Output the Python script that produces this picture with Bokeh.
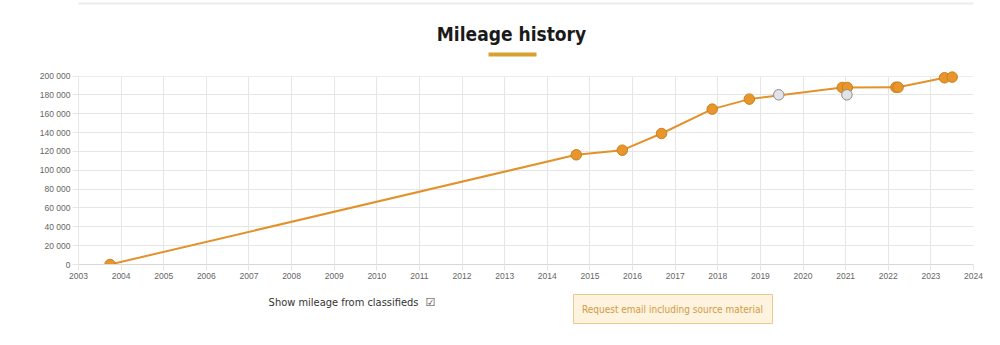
from bokeh.plotting import figure
from bokeh.layouts import column
from bokeh.models import Range1d, FixedTicker, BoxAnnotation, ColumnDataSource
from bokeh.core.properties import value
from bokeh.embed import file_html
from bokeh.resources import INLINE

# ---- data (decimal years, km) ----
dealer_years = [2003.74, 2014.68, 2015.76, 2016.68, 2017.87, 2018.74,
                2020.92, 2021.04, 2022.18, 2022.23, 2023.32, 2023.50]
dealer_km = [0, 116500, 121400, 139100, 165000, 175600,
             188000, 188000, 188200, 188200, 198300, 199000]
classified_years = [2019.43, 2021.03]
classified_km = [180200, 180200]

year_ticks = list(range(2003, 2025))
km_ticks = list(range(0, 200001, 20000))
km_labels = ["0", "20 000", "40 000", "60 000", "80 000", "100 000",
             "120 000", "140 000", "160 000", "180 000", "200 000"]

title_text = "Mileage history"
toggle_text = "Show mileage from classifieds"
button_text = "Request email including source material"

ORANGE = "#e3922b"
GRID = "#e6e6e6"
TICKC = "#666666"
W = 1000
LEFT, RIGHT = 78, 27
NARROW = value("DejaVu Sans Condensed, Roboto")


def deco_fig(h, y_top):
    # frame is aligned with the chart frame: map canvas pixels 1:1
    f = figure(width=W, height=h, output_backend="svg", toolbar_location=None,
               x_range=Range1d(LEFT, W - RIGHT), y_range=Range1d(y_top + h, y_top),
               x_axis_location=None, y_axis_location=None,
               min_border_left=LEFT, min_border_right=RIGHT,
               min_border_top=0, min_border_bottom=0)
    f.outline_line_color = None
    f.xgrid.visible = False
    f.ygrid.visible = False
    return f


# ---- top: page line, title, underline ----
top = deco_fig(66, 0)
top.quad(left=[40], right=[1000], top=[2], bottom=[4], fill_color="#ececec",
         line_color=None)
top.text(x=[511], y=[33], text=[title_text], text_align="center",
         text_baseline="middle", text_font=NARROW, text_font_style="bold",
         text_font_size="19px", text_color="#1a1a1a")
top.quad(left=[488], right=[536], top=[52], bottom=[56], fill_color="#d9a032",
         line_color=None)

# ---- main chart ----
Y_END = 206000
p = figure(width=W, height=224, output_backend="svg", toolbar_location=None,
           x_range=Range1d(2003, 2024), y_range=Range1d(0, Y_END),
           min_border_left=LEFT, min_border_right=RIGHT, min_border_top=4,
           min_border_bottom=26)
p.outline_line_color = None

p.xaxis.ticker = FixedTicker(ticks=year_ticks)
p.yaxis.ticker = FixedTicker(ticks=km_ticks)
p.yaxis.major_label_overrides = {t: l for t, l in zip(km_ticks, km_labels)}
p.xaxis.major_label_overrides = {t: str(t) for t in year_ticks}
for ax in (p.xaxis, p.yaxis):
    ax.axis_line_color = "#d8d8d8"
    ax.major_tick_line_color = GRID
    ax.major_tick_in = 0
    ax.major_tick_out = 6
    ax.minor_tick_line_color = None
    ax.major_label_text_font = "Liberation Sans"
    ax.major_label_text_font_size = "8.5px"
    ax.major_label_text_color = TICKC
    ax.major_label_standoff = 2
p.yaxis.axis_line_color = GRID
p.yaxis.bounds = (0, 200000)
p.xgrid.grid_line_color = GRID
p.ygrid.grid_line_color = GRID

# hide grid above the top tick (space kept so markers are not clipped)
p.add_layout(BoxAnnotation(bottom=200000, fill_color="white", fill_alpha=1,
                           line_color=None, level="underlay"))

src = ColumnDataSource(dict(x=dealer_years, y=dealer_km))
p.line("x", "y", source=src, line_color=ORANGE, line_width=2)
p.scatter("x", "y", source=src, size=10.5, fill_color="#e8952c",
          line_color="#c97f1e", line_width=1)
p.scatter(classified_years, classified_km, size=10.5, fill_color="#e1e3e8",
          line_color="#8c8c8c", line_width=1)

# ---- bottom: toggle text and button ----
bot = deco_fig(55, 290)
bot.text(x=[418], y=[302], text=[toggle_text], text_align="right",
         text_baseline="middle", text_font=NARROW, text_font_size="11px",
         text_color="#333333")
bot.text(x=[430], y=[302], text=["\u2611"], text_align="center",
         text_baseline="middle", text_font=value("DejaVu Sans"),
         text_font_size="11px", text_color="#444444")
bot.quad(left=[573], right=[772], top=[294], bottom=[323],
         fill_color="#fdf3de", line_color="#ebc98b", line_width=1)
bot.text(x=[672], y=[309], text=[button_text], text_align="center",
         text_baseline="middle", text_font=NARROW, text_font_size="10px",
         text_color="#d39a45")

layout = column(top, p, bot, spacing=0)
open("out.html", "w").write(file_html(layout, INLINE))
